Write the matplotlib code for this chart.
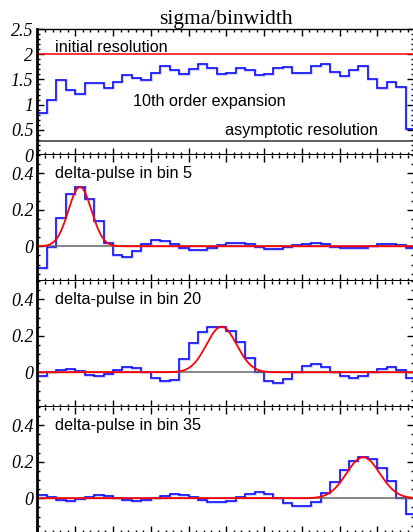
import numpy as np
import matplotlib.pyplot as plt
from matplotlib.ticker import MultipleLocator

# sigma/binwidth per bin (40 bins)
sigma_bw = [0.83, 1.09, 1.48, 1.28, 1.22, 1.43, 1.43, 1.32, 1.45, 1.59,
            1.52, 1.48, 1.63, 1.77, 1.68, 1.61, 1.71, 1.81, 1.73, 1.61,
            1.62, 1.73, 1.69, 1.58, 1.60, 1.73, 1.74, 1.62, 1.62, 1.76,
            1.81, 1.65, 1.57, 1.69, 1.77, 1.50, 1.33, 1.45, 1.35, 0.52]
initial_res = 2.0
asympt_res = 0.28

# unfolded response to delta pulses
pulse5 = [-0.12, -0.005, 0.154, 0.284, 0.325, 0.257, 0.136, 0.018, -0.05, -0.059,
          -0.026, 0.013, 0.033, 0.029, 0.013, -0.009, -0.02, -0.02, -0.009, 0.007,
          0.018, 0.018, 0.011, -0.002, -0.013, -0.013, -0.004, 0.007, 0.015, 0.018,
          0.011, -0.002, -0.009, -0.011, -0.009, 0.0, 0.013, 0.015, 0.007, -0.011]
pulse20 = [-0.02, 0.0, 0.015, 0.018, 0.008, -0.013, -0.022, -0.009, 0.012, 0.028,
           0.022, 0.0, -0.031, -0.047, -0.04, 0.073, 0.159, 0.219, 0.25, 0.25,
           0.228, 0.166, 0.08, 0.0, -0.05, -0.06, -0.039, 0.0, 0.032, 0.043,
           0.03, 0.0, -0.022, -0.031, -0.022, 0.0, 0.02, 0.03, 0.014, -0.033]
pulse35 = [0.017, 0.006, -0.007, -0.013, -0.006, 0.006, 0.017, 0.013, 0.0, -0.008,
           -0.016, -0.009, 0.003, 0.013, 0.021, 0.019, 0.006, -0.01, -0.022, -0.022,
           -0.013, 0.006, 0.022, 0.033, 0.022, 0.0, -0.026, -0.044, -0.044, -0.019,
           0.03, 0.092, 0.154, 0.204, 0.228, 0.215, 0.167, 0.095, 0.0, -0.087]

pulse_bins = [5, 20, 35]
pulses = [pulse5, pulse20, pulse35]
# expected gaussian: peak height, width (bins)
g_peak = [0.325, 0.25, 0.225]
g_width = [1.22, 1.6, 1.77]

nbins = 40
edges = np.arange(nbins + 1)

W, H = 414, 532
fig = plt.figure(figsize=(W / 100, H / 100), dpi=100)

x0 = 37.5
tops = [29, 155, 281, 407]
ph = 126

tickfont = dict(family='Liberation Serif', style='italic', size=13)
sans = 'Liberation Sans'
tsize = 11.7


def make_ax(top):
    ax = fig.add_axes([x0 / W, 1 - (top + ph) / H, (W - x0) / W, ph / H])
    ax.set_xlim(0, (W - x0) / 9.44)
    ax.xaxis.set_major_locator(MultipleLocator(4))
    ax.xaxis.set_minor_locator(MultipleLocator(0.8))
    ax.tick_params(which='both', direction='in', top=True, right=True,
                   labelbottom=False, pad=3)
    ax.tick_params(which='major', length=5, width=1)
    ax.tick_params(which='minor', length=2.5, width=1)
    ax.spines['left'].set_linewidth(2)
    ax.spines['bottom'].set_linewidth(2.2)
    ax.spines['top'].set_linewidth(1)
    ax.spines['right'].set_linewidth(1)
    return ax


# top panel
ax = make_ax(tops[0])
ax.set_ylim(0, 2.5)
ax.yaxis.set_minor_locator(MultipleLocator(0.1))
ax.set_yticks([0, 0.5, 1, 1.5, 2, 2.5])
ax.set_yticklabels(['0', '0.5', '1', '1.5', '2', '2.5'], **tickfont)
ax.axhline(initial_res, color='red', lw=1.1)
ax.axhline(asympt_res, color='#333333', lw=1.1)
ax.stairs(sigma_bw, edges, color='#9999ff', lw=2.0, alpha=0.45)
ax.stairs(sigma_bw, edges, color='blue', lw=1.1)
ax.text(1.85, 2.14, 'initial resolution', family=sans, size=tsize, va='center')
ax.text(10.1, 1.07, '10th order expansion', family=sans, size=tsize, va='center')
ax.text(19.9, 0.48, 'asymptotic resolution', family=sans, size=tsize, va='center')
ax.set_title('sigma/binwidth', family='Liberation Serif', size=15.5, pad=2)

xs = np.linspace(0, nbins, 800)
for top, b, vals, pk, wd in zip(tops[1:], pulse_bins, pulses, g_peak, g_width):
    ax = make_ax(top)
    ax.set_ylim(-0.19, 0.5)
    ax.yaxis.set_minor_locator(MultipleLocator(0.05))
    ax.set_yticks([0, 0.2, 0.4])
    ax.set_yticklabels(['0', '0.2', '0.4'], **tickfont)
    ax.spines['top'].set_visible(False)
    ax.axhline(0, color='#666666', lw=1.1)
    ax.stairs(vals, edges, color='#9999ff', lw=2.0, alpha=0.45)
    ax.stairs(vals, edges, color='blue', lw=1.1)
    ax.plot(xs, pk * np.exp(-0.5 * ((xs - (b - 0.5)) / wd) ** 2), color='red', lw=1.3)
    ax.text(1.85, 0.40, 'delta-pulse in bin %d' % b, family=sans, size=tsize, va='center')

plt.savefig('out.png', dpi=100)
